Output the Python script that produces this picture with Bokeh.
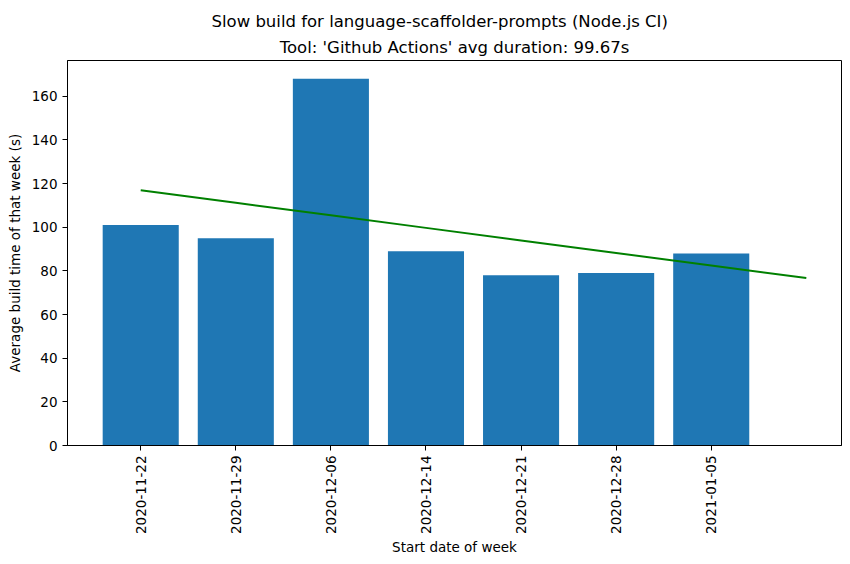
import numpy as np
from bokeh.plotting import figure
from bokeh.models import FixedTicker, Range1d, Title, ColumnDataSource
from bokeh.embed import file_html
from bokeh.resources import INLINE

weeks = ["2020-11-22", "2020-11-29", "2020-12-06", "2020-12-14",
         "2020-12-21", "2020-12-28", "2021-01-05"]
durations = [101, 95, 168, 89, 78, 79, 88]
suptitle = "Slow build for language-scaffolder-prompts (Node.js CI)"
subtitle = "Tool: 'Github Actions' avg duration: 99.67s"
y_ticks = [0, 20, 40, 60, 80, 100, 120, 140, 160]

FONT = "DejaVu Sans"
xs = list(range(len(weeks)))

# linear trend fitted to the weekly averages, drawn from 0 to n
coef = np.polyfit(xs, durations, 1)
trend_x = list(range(len(weeks) + 1))
trend_y = list(np.polyval(coef, trend_x))

p = figure(width=850, height=564, output_backend="svg", toolbar_location=None,
           x_range=Range1d(-0.77, 7.37), y_range=Range1d(0, 176.4),
           min_border_left=67, min_border_right=9, min_border_top=60,
           min_border_bottom=119)

src = ColumnDataSource(dict(x=xs, top=durations))
p.vbar(x="x", top="top", width=0.8, bottom=0, source=src,
       fill_color="#1f77b4", line_color=None)
p.line(trend_x, trend_y, line_color="green", line_width=2)

# outer (top) title
p.title.text = suptitle
p.title.align = "left"
p.title.offset = 144
p.title.text_font = FONT
p.title.text_font_size = "16.5px"
p.title.text_font_style = "normal"
p.title.text_color = "black"
p.title.standoff = 2

# inner title, closest to the plot
p.add_layout(Title(text=subtitle, align="center", text_font=FONT,
                   text_font_size="16.5px", text_font_style="normal",
                   text_color="black", standoff=8), "above")

p.xgrid.visible = False
p.ygrid.visible = False
p.outline_line_color = "black"
p.outline_line_alpha = 1
p.outline_line_width = 1

p.xaxis.ticker = FixedTicker(ticks=xs)
p.xaxis.major_label_overrides = {i: w for i, w in enumerate(weeks)}
p.xaxis.major_label_orientation = np.pi / 2
p.yaxis.ticker = FixedTicker(ticks=y_ticks)

for ax in (p.xaxis[0], p.yaxis[0]):
    ax.axis_line_color = "black"
    ax.major_tick_line_color = "black"
    ax.major_tick_in = 0
    ax.major_tick_out = 5
    ax.minor_tick_line_color = None
    ax.major_label_text_font = FONT
    ax.major_label_text_font_size = "13.5px"
    ax.major_label_text_color = "black"
    ax.axis_label_text_font = FONT
    ax.axis_label_text_font_size = "13.5px"
    ax.axis_label_text_font_style = "normal"
    ax.axis_label_text_color = "black"

p.xaxis.axis_label = "Start date of week"
p.yaxis.axis_label = "Average build time of that week (s)"
p.xaxis.major_label_standoff = 5
p.yaxis.major_label_standoff = 5
p.xaxis.axis_label_standoff = 2
p.yaxis.axis_label_standoff = 6

open("out.html", "w").write(file_html(p, INLINE))
